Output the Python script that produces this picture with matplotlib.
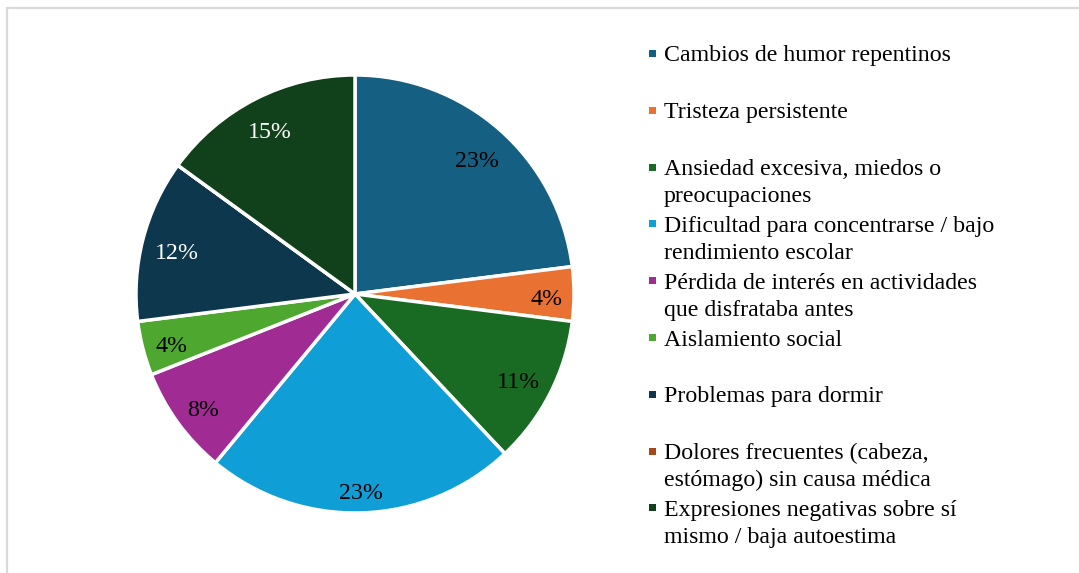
import math
import matplotlib
matplotlib.use("Agg")
import matplotlib.pyplot as plt
from matplotlib.patches import Rectangle

categories = [
    "Cambios de humor repentinos",
    "Tristeza persistente",
    "Ansiedad excesiva, miedos o\npreocupaciones",
    "Dificultad para concentrarse / bajo\nrendimiento escolar",
    "Pérdida de interés en actividades\nque disfrataba antes",
    "Aislamiento social",
    "Problemas para dormir",
    "Dolores frecuentes (cabeza,\nestómago) sin causa médica",
    "Expresiones negativas sobre sí\nmismo / baja autoestima",
]
values = [23, 4, 11, 23, 8, 4, 12, 0, 15]
colors = ["#156082", "#E97132", "#196B24", "#0F9ED5", "#A02B93",
          "#4EA72E", "#0D374C", "#A5471A", "#11411A"]
label_colors = ["black", "black", "black", "black", "black",
                "black", "white", "black", "white"]

W, H = 1079, 573
FS = 17.2
fig = plt.figure(figsize=(W / 100, H / 100), dpi=100)
plt.rcParams["font.family"] = ["Liberation Serif", "DejaVu Serif"]

# figure frame
fig.patches.append(Rectangle((7 / W, -0.05), 1.1, 1 - 8.5 / H + 0.05,
                             transform=fig.transFigure, fill=False,
                             edgecolor="#D9D9D9", linewidth=1.6))

cx, cy, r = 355, 294, 219
ax = fig.add_axes([(cx - r) / W, (H - cy - r) / H, 2 * r / W, 2 * r / H])

wedges, _ = ax.pie(
    values, colors=colors, startangle=90, counterclock=False,
    wedgeprops=dict(edgecolor="white", linewidth=2.5))
for w in wedges:
    w.set_clip_on(False)
ax.set_xlim(-1, 1)
ax.set_ylim(-1, 1)
ax.set_aspect("equal")
ax.axis("off")

# data labels placed "inside end": farthest box corner at a fixed radius
renderer = fig.canvas.get_renderer()
total = sum(values)
R0 = 208.0 / r
hh = 12.0 / r
dy = -3.0 / r
for w, v, c in zip(wedges, values, label_colors):
    if v == 0:
        continue
    pct = 100.0 * v / total
    th = math.radians((w.theta1 + w.theta2) / 2)
    t = ax.text(0, 0, f"{pct:.0f}%", fontsize=FS, color=c,
                ha="center", va="center_baseline",
                family="Liberation Serif")
    bb = t.get_window_extent(renderer)
    hw = bb.width / 2 / r
    cs, sn = math.cos(th), math.sin(th)
    a = hw * (1 if cs >= 0 else -1)
    b = hh * (1 if sn >= 0 else -1)
    k = a * cs + b * sn
    d = -k + math.sqrt(k * k - (a * a + b * b - R0 * R0))
    t.set_position((d * cs, d * sn + dy))

# legend drawn manually in Excel-like slots
first_baseline = 61.5
slot = 56.8
line_gap = 27.3
for i, (lab, col) in enumerate(zip(categories, colors)):
    base = first_baseline + i * slot
    for j, line in enumerate(lab.split("\n")):
        fig.text(664 / W, 1 - (base + j * line_gap) / H, line, fontsize=FS,
                 family="Liberation Serif", va="baseline", ha="left",
                 color="black")
    fig.patches.append(Rectangle((649 / W, 1 - (base - 4.5) / H), 7 / W, 7 / H,
                                 transform=fig.transFigure,
                                 facecolor=col, edgecolor="none"))

fig.savefig("out.png", dpi=100)
